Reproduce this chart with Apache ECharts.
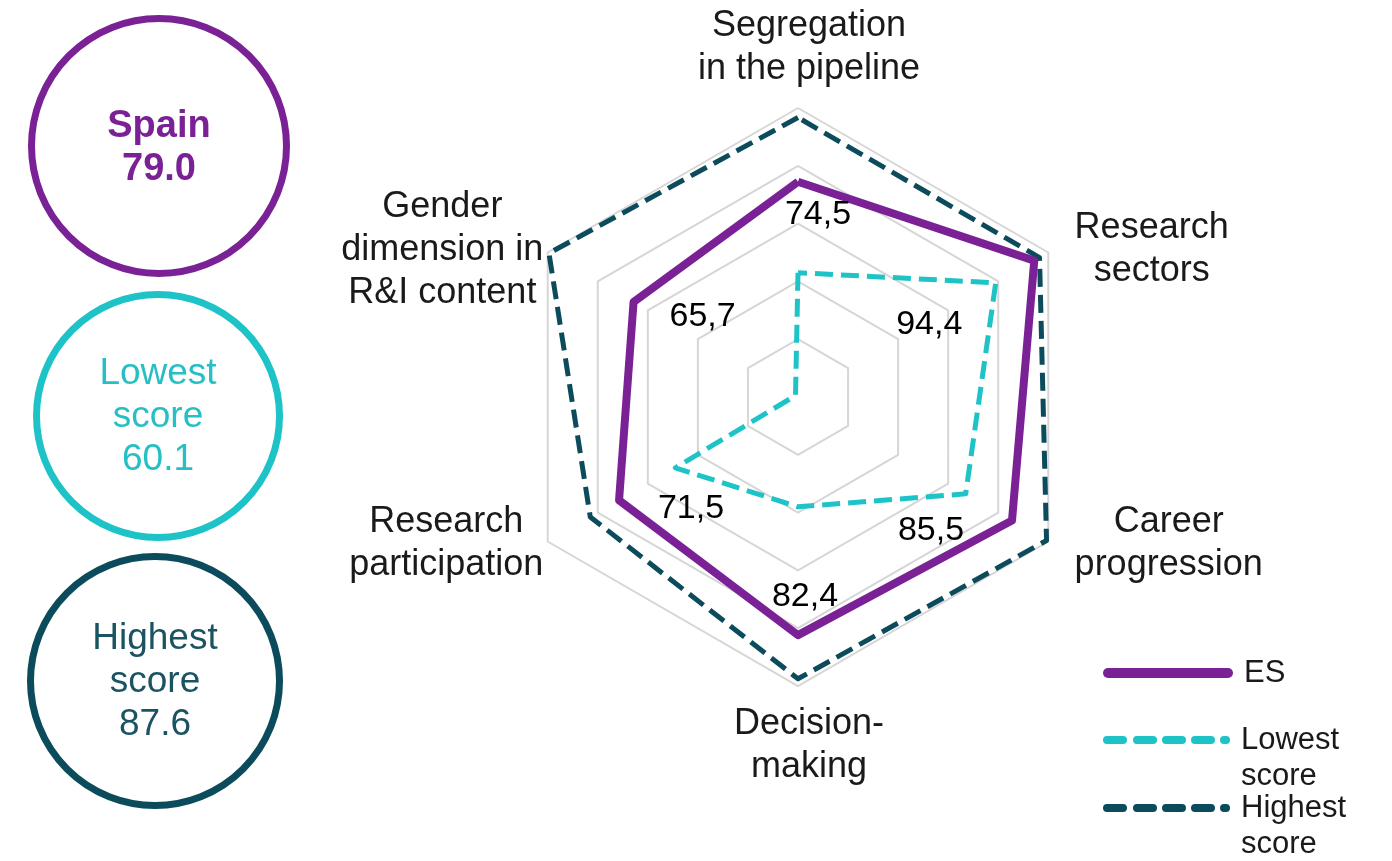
<!DOCTYPE html>
<html>
<head>
<meta charset="utf-8">
<script src="https://cdn.jsdelivr.net/npm/echarts@6/dist/echarts.min.js"></script>
<style>
html,body{margin:0;padding:0;background:#ffffff;}
#chart{width:1392px;height:861px;}
</style>
</head>
<body>
<div id="chart"></div>
<script>
// ---- data ----
const categories = ['Segregation\nin the pipeline', 'Gender\ndimension in\nR&I content', 'Research\nparticipation', 'Decision-\nmaking', 'Career\nprogression', 'Research\nsectors'];
const esValues = [74.5, 65.7, 71.5, 82.4, 85.5, 94.4];
const lowestValues = [43, 1, 49, 38, 67, 79];
const highestValues = [96.7, 99.5, 83, 97.5, 99.3, 96.5];
const seriesNames = ['ES', 'Lowest score', 'Highest score'];
const summaryTitles = ['Spain', 'Lowest\nscore', 'Highest\nscore'];
const summaryValues = ['79.0', '60.1', '87.6'];

// ---- style ----
const FONT = '"Liberation Sans", Arial, sans-serif';
const PURPLE = '#7a2196';
const CYAN = '#1ec3c8';
const TEAL = '#0b4b5c';
const TEXT = '#1a1a1a';
const CENTER = [798, 397];
const RADIUS = 289;
const labelOffsets = [[20, 33], [69, 15], [72, 8], [7, -39], [-81, 10], [-105, 64]];

function capsule(a, b, h) {
  const r = h / 2;
  return 'M' + (a + r) + ' 0H' + (b - r) + 'A' + r + ' ' + r + ' 0 0 1 ' + (b - r) + ' ' + h +
         'H' + (a + r) + 'A' + r + ' ' + r + ' 0 0 1 ' + (a + r) + ' 0Z';
}
const solidIcon = 'path://' + capsule(0, 130, 10);
const dashIcon = 'path://' + [[0, 24], [30, 54], [59, 83], [88, 112], [117, 127]].map(s => capsule(s[0], s[1], 8)).join('');

const chart = echarts.init(document.getElementById('chart'), null, {renderer: 'canvas'});

const circles = [
  {cx: 159, cy: 146, r: 127.5, color: PURPLE, textColor: PURPLE, bold: true, ty: 148},
  {cx: 158, cy: 416, r: 121.5, color: CYAN, textColor: '#26bfc4', bold: false, ty: 417},
  {cx: 155, cy: 681, r: 124.5, color: TEAL, textColor: '#1b5361', bold: false, ty: 682}
];
const graphics = [];
circles.forEach((c, i) => {
  graphics.push({
    type: 'circle', shape: {cx: c.cx, cy: c.cy, r: c.r},
    style: {fill: '#ffffff', stroke: c.color, lineWidth: 7}, silent: true
  });
  graphics.push({
    type: 'text', x: c.cx, y: c.ty, silent: true,
    style: {
      text: summaryTitles[i] + '\n' + summaryValues[i],
      fill: c.textColor, align: 'center', verticalAlign: 'middle',
      font: (c.bold ? 'bold 38px ' : '37px ') + FONT, lineHeight: 43
    }
  });
});

const legendCommon = {
  left: 1103, padding: 0, selectedMode: false, orient: 'vertical'
};

const option = {
  backgroundColor: '#ffffff',
  animation: false,
  graphic: graphics,
  legend: [
    Object.assign({}, legendCommon, {
      top: 655, itemWidth: 130, itemHeight: 10,
      data: [{name: seriesNames[0], icon: solidIcon, itemStyle: {color: PURPLE, borderWidth: 0}}],
      textStyle: {fontSize: 31, lineHeight: 36, fontFamily: FONT, color: TEXT, padding: [0, 0, 0, 6]}
    }),
    Object.assign({}, legendCommon, {
      top: 686, itemWidth: 127, itemHeight: 8,
      formatter: n => '\n' + n.replace(' ', '\n'),
      data: [{name: seriesNames[1], icon: dashIcon, itemStyle: {color: CYAN, borderWidth: 0}}],
      textStyle: {fontSize: 31, lineHeight: 36, fontFamily: FONT, color: TEXT, padding: [0, 0, 0, 6]}
    }),
    Object.assign({}, legendCommon, {
      top: 754, itemWidth: 127, itemHeight: 8,
      formatter: n => '\n' + n.replace(' ', '\n'),
      data: [{name: seriesNames[2], icon: dashIcon, itemStyle: {color: TEAL, borderWidth: 0}}],
      textStyle: {fontSize: 31, lineHeight: 36, fontFamily: FONT, color: TEXT, padding: [0, 0, 0, 6]}
    })
  ],
  radar: {
    center: CENTER,
    radius: RADIUS,
    startAngle: 90,
    shape: 'polygon',
    splitNumber: 5,
    nameGap: 5,
    indicator: categories.map(n => ({name: n, min: 0, max: 100})),
    axisName: {
      formatter: (name) => name.split('\n').map(l => '{c|' + l + '}').join('\n'),
      color: TEXT, fontFamily: FONT, fontSize: 36, lineHeight: 43,
      padding: [12, 0, 12, 22],
      rich: {c: {align: 'center', fontSize: 36, lineHeight: 43, fontFamily: FONT, color: TEXT}}
    },
    splitLine: {lineStyle: {color: '#d6d6d6', width: 2}},
    splitArea: {show: false},
    axisLine: {show: false},
    axisTick: {show: false},
    axisLabel: {show: false}
  },
  polar: {center: CENTER, radius: RADIUS},
  angleAxis: {
    type: 'category', data: categories, boundaryGap: false, startAngle: 90, clockwise: false,
    axisLine: {show: false}, axisTick: {show: false}, axisLabel: {show: false}, splitLine: {show: false}
  },
  radiusAxis: {
    min: 0, max: 100,
    axisLine: {show: false}, axisTick: {show: false}, axisLabel: {show: false}, splitLine: {show: false}
  },
  series: [
    {
      type: 'radar', name: seriesNames[2], symbol: 'none', z: 2,
      itemStyle: {color: TEAL},
      lineStyle: {color: TEAL, width: 5, type: [18, 8]},
      data: [{value: highestValues, name: seriesNames[2]}]
    },
    {
      type: 'radar', name: seriesNames[1], symbol: 'none', z: 3,
      itemStyle: {color: CYAN},
      lineStyle: {color: CYAN, width: 5, type: [18, 8]},
      data: [{value: lowestValues, name: seriesNames[1]}]
    },
    {
      type: 'radar', name: seriesNames[0], symbol: 'none', z: 4,
      itemStyle: {color: PURPLE},
      lineStyle: {color: PURPLE, width: 8},
      data: [{value: esValues, name: seriesNames[0]}]
    },
    {
      type: 'scatter', coordinateSystem: 'polar', silent: true, z: 6,
      symbolSize: 1, itemStyle: {color: 'rgba(255,255,255,0)'},
      label: {
        show: true, position: 'inside', fontSize: 34, fontFamily: FONT, color: '#000000',
        textBorderWidth: 0, opacity: 1,
        formatter: p => p.value[0].toFixed(1).replace('.', ',')
      },
      data: esValues.map((v, i) => ({value: [v, i], label: {offset: labelOffsets[i]}}))
    }
  ]
};
chart.setOption(option);
</script>
</body>
</html>
